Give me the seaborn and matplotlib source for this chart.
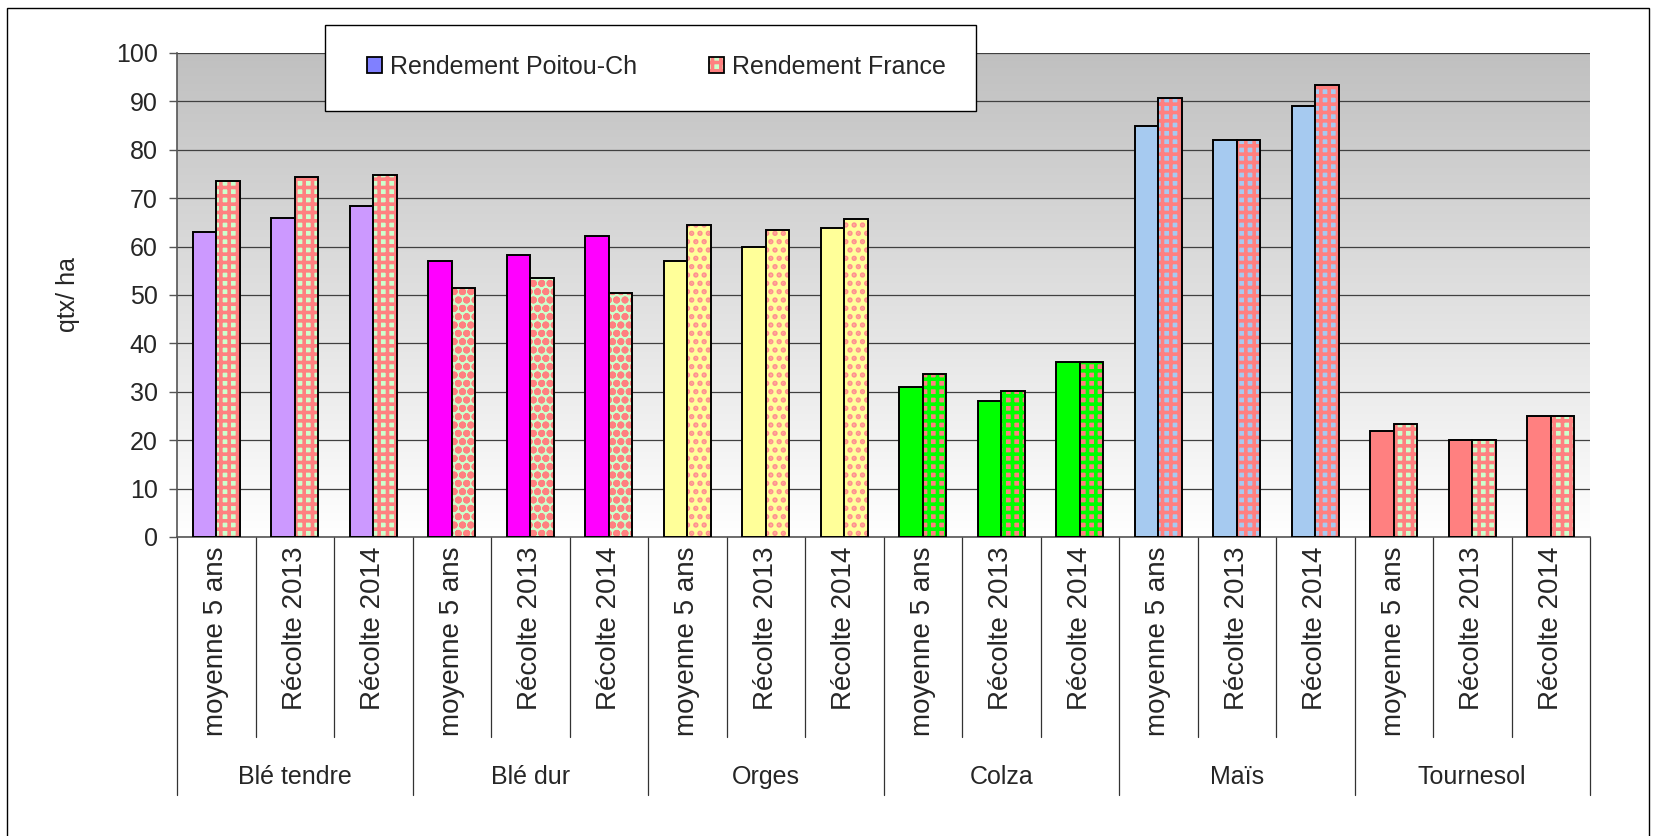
import numpy as np
import pandas as pd
from matplotlib import pyplot as plt
from matplotlib.patches import Rectangle, Patch
from matplotlib.colors import LinearSegmentedColormap
import seaborn as sns

# donnees
cultures = ['Blé tendre', 'Blé dur', 'Orges', 'Colza', 'Maïs', 'Tournesol']
periodes = ['moyenne 5 ans', 'Récolte 2013', 'Récolte 2014']
rdt_poitou = [63, 66, 68.3,
              57, 58.3, 62.2,
              57, 60, 63.8,
              31, 28, 36.2,
              85, 82, 89,
              22, 20, 25]
rdt_france = [73.5, 74.4, 74.8,
              51.4, 53.5, 50.5,
              64.4, 63.5, 65.6,
              33.7, 30.1, 36.2,
              90.8, 82, 93.4,
              23.3, 20, 25]
series = ['Rendement Poitou-Ch', 'Rendement France']

# styles par culture
couleur_poitou = ['#CC99FF', '#FF00FF', '#FFFF99', '#00FF00', '#A6CAF0', '#FF8080']
fond_france = ['#CCFFCC', '#CCFFCC', '#FFFF99', '#FF8080', '#A6CAF0', '#CCFFCC']
motif_france = ['#FF8080', '#FF8080', '#FF9090', '#00FF00', '#FF8080', '#FF8080']
hachure_france = ['++', 'oo', '..', '++', '++', '++']

W, H = 1657, 836
plt.rcParams['hatch.linewidth'] = 2.6
sns.set_style('white')
plt.rcParams['font.family'] = ['Liberation Sans', 'DejaVu Sans']

cles = [c + '|' + p for c in cultures for p in periodes]
df = pd.DataFrame({
    'cle': cles * 2,
    'serie': [series[0]] * len(cles) + [series[1]] * len(cles),
    'valeur': rdt_poitou + rdt_france,
})

fig = plt.figure(figsize=(W / 100, H / 100), dpi=100)
ax = fig.add_axes([177 / W, 1 - 537 / H, (1590 - 177) / W, (537 - 53) / H])

sns.barplot(data=df, x='cle', y='valeur', hue='serie', order=cles, hue_order=series,
            width=0.6, dodge=True, legend=False, ax=ax, errorbar=None)

for i, p in enumerate(ax.containers[0].patches):
    g = i // 3
    p.set_facecolor(couleur_poitou[g])
    p.set_edgecolor('black')
    p.set_linewidth(1.4)
    p.set_zorder(3)
for i, p in enumerate(ax.containers[1].patches):
    g = i // 3
    p.set_facecolor(fond_france[g])
    p.set_edgecolor(motif_france[g])
    p.set_hatch(hachure_france[g])
    p.set_linewidth(0)
    p.set_zorder(3)
    ax.add_patch(Rectangle((p.get_x(), p.get_y()), p.get_width(), p.get_height(),
                           fill=False, ec='black', lw=1.4, zorder=4))

n = len(cles)
ax.set_xlim(-0.5, n - 0.5)
ax.set_ylim(0, 100)
ax.set_yticks(range(0, 101, 10))

# fond degrade
cmap = LinearSegmentedColormap.from_list('fond', ['#FFFFFF', '#C0C0C0'])
ax.imshow(np.linspace(0, 1, 256).reshape(-1, 1), extent=[-0.5, n - 0.5, 0, 100],
          aspect='auto', cmap=cmap, origin='lower', zorder=0.1)
ax.yaxis.grid(True, color='#404040', linewidth=0.9)
ax.set_axisbelow(True)

for s in ['top', 'right']:
    ax.spines[s].set_visible(False)
for s in ['left', 'bottom']:
    ax.spines[s].set_color('#555555')
    ax.spines[s].set_linewidth(1.2)

ax.set_xticks(range(n))
ax.set_xticklabels(periodes * len(cultures), rotation=90, va='top')
ax.tick_params(axis='x', length=0, pad=7, labelsize=20)
ax.tick_params(axis='y', length=6, width=1, color='#555555', pad=8, labelsize=18, left=True)
ax.set_xlabel('')
ax.set_ylabel('qtx/ ha', fontsize=18)
ax.yaxis.set_label_coords(-(177 - 80) / (1590 - 177), 0.5)

# axe categoriel a deux niveaux
tr = ax.get_xaxis_transform()
for k in range(n + 1):
    bas = -0.533 if k % 3 == 0 else -0.413
    ax.plot([k - 0.5, k - 0.5], [0, bas], transform=tr, color='#333333', lw=0.9, clip_on=False)
for g, c in enumerate(cultures):
    ax.text(3 * g + 1, -0.496, c, transform=tr, ha='center', va='center', fontsize=18)

# legende
fig.add_artist(Rectangle((325 / W, 1 - 111 / H), (976 - 325) / W, (111 - 25) / H,
                         transform=fig.transFigure, fc='white', ec='black', lw=1, zorder=5))
h1 = Patch(facecolor='#8080FF', edgecolor='black', lw=1.3)
h2 = (Patch(facecolor='#CCFFCC', edgecolor='#FF8080', hatch='++', lw=0),
      Patch(fill=False, edgecolor='black', lw=1.3))
leg = fig.legend([h1, h2], series, loc='upper left', bbox_to_anchor=(354 / W, 1 - 42 / H),
                 ncol=2, frameon=False, fontsize=18, borderpad=0, handlelength=0.6,
                 handleheight=0.6, handletextpad=0.35, columnspacing=2.85)
leg.set_zorder(6)

# cadre
fig.add_artist(Rectangle((7 / W, -0.1), (1649 - 7) / W, 1.1 - 8 / H,
                         transform=fig.transFigure, fill=False, ec='black', lw=1))

fig.savefig('out.png', dpi=100)
